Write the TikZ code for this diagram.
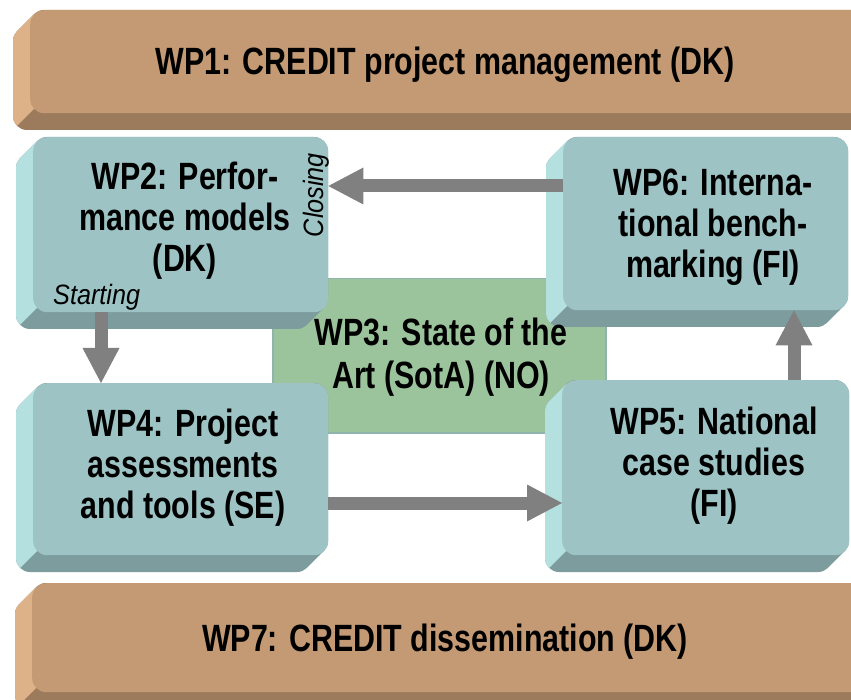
\documentclass[tikz,border=0pt]{standalone}
\usepackage{fontspec}
\setmainfont[FakeStretch=0.8]{Liberation Sans}
\newfontfamily\lblfont[FakeStretch=0.9]{Liberation Sans}
\usetikzlibrary{arrows.meta}
\definecolor{tealF}{HTML}{9DC3C4}
\definecolor{tealL}{HTML}{B4E0E0}
\definecolor{tealD}{HTML}{7D9C9D}
\definecolor{tanF}{HTML}{C49A74}
\definecolor{tanL}{HTML}{DEB288}
\definecolor{tanD}{HTML}{9C7A5C}
\definecolor{greenF}{HTML}{9CC49C}
\definecolor{greenB}{HTML}{8FB4AE}
\definecolor{arrowgray}{HTML}{808080}
\tikzset{
  face/.style={rectangle, rounded corners=14pt, inner sep=0pt, anchor=north west, draw=none},
  wptext/.style={font=\fontsize{38}{41}\selectfont\bfseries, align=center, inner sep=0pt},
  bigarrow/.style={draw=arrowgray, line width=13pt, -{Triangle[width=37pt,length=35pt,line width=0pt]}},
  lbl/.style={font=\lblfont\fontsize{28}{30}\selectfont\itshape, inner sep=0pt},
}
% name, x1, y1, x2, y2, front, light, dark
\newcommand\bevelbox[8]{%
  \begin{scope}
    \clip[rounded corners=14pt] \foreach \i in {0,...,17}{ ({#2-\i},{#3+\i}) rectangle ({#4-\i},{#5+\i}) };
    \fill[#8] ({#2-30},{#3-5}) rectangle ({#4+5},{#5+30});
    \fill[#7] ({#2+4},{#3-5}) -- ({#2+4},{#5-4}) -- ({#2-26},{#5+26}) -- ({#2-30},{#5+26}) -- ({#2-30},{#3-5}) -- cycle;
  \end{scope}
  \pgfmathsetmacro\bw{#4-#2}\pgfmathsetmacro\bh{#5-#3}%
  \node[face, fill=#6, minimum width=\bw pt, minimum height=\bh pt] (#1) at (#2,#3) {};
}
\begin{document}
\begin{tikzpicture}[x=1pt,y=-1pt]
\useasboundingbox (0,0) rectangle (851,700);
\clip (0,0) rectangle (851,700);
\fill[white] (0,0) rectangle (851,700);

% WP1
\bevelbox{wp1f}{30}{10}{880}{113}{tanF}{tanL}{tanD}
\node[wptext, anchor=base] (wp1) at (445,75) {WP1: CREDIT project management (DK)};

% WP3 (behind the teal boxes)
\node[rectangle, fill=greenF, draw=greenB, line width=1.5pt, minimum width=333pt, minimum height=154pt, anchor=north west, inner sep=0pt] (wp3f) at (272,278) {};

% WP2
\bevelbox{wp2f}{33}{137}{328}{312}{tealF}{tealL}{tealD}
% WP6
\bevelbox{wp6f}{563}{137}{848}{310}{tealF}{tealL}{tealD}
% WP4
\bevelbox{wp4f}{33}{383}{328}{555}{tealF}{tealL}{tealD}
% WP5
\bevelbox{wp5f}{562}{380}{849}{555}{tealF}{tealL}{tealD}
% WP7
\bevelbox{wp7f}{32}{583}{880}{692}{tanF}{tanL}{tanD}

\node[wptext] (wp2) at (185,221) {WP2: Perfor-\\mance models\\(DK)};
\node[wptext] (wp6) at (713,227) {WP6: Interna-\\tional bench-\\marking (FI)};
\node[wptext, font=\fontsize{38}{43}\selectfont\bfseries] (wp3) at (441,357) {WP3: State of the\\Art (SotA) (NO)};
\node[wptext] (wp4) at (183,468) {WP4: Project\\assessments\\and tools (SE)};
\node[wptext] (wp5) at (714,466) {WP5: National\\case studies\\(FI)};
\node[wptext, anchor=base] (wp7) at (445,651) {WP7: CREDIT dissemination (DK)};

% connectors
\draw[bigarrow] (wp6f.west |- 0,186) -- (wp2f.east |- 0,186);
\draw[bigarrow] (wp2f.south -| 101,0) -- (wp4f.north -| 101,0);
\draw[bigarrow] (wp4f.east |- 0,503) -- (wp5f.west |- 0,503);
\draw[bigarrow] (wp5f.north -| 794,0) -- (wp6f.south -| 794,0);

% labels
\node[lbl, anchor=base west] (starting) at (53,305) {Starting};
\node[lbl, rotate=90] (closing) at (316,195) {Closing};
\end{tikzpicture}
\end{document}
